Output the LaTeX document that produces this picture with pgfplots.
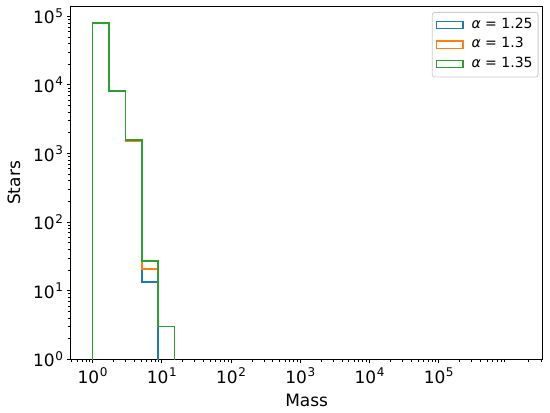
\documentclass[border=0pt]{standalone}
\usepackage{fontspec}
\setmainfont{DejaVu Sans}
\usepackage{pgfplots}
\pgfplotsset{compat=1.18}
\definecolor{tabblue}{HTML}{1F77B4}
\definecolor{taborange}{HTML}{FF7F0E}
\definecolor{tabgreen}{HTML}{2CA02C}
\newcommand{\tp}[1]{10\hspace{0.6pt}\raisebox{6.7pt}{\fontsize{12}{12}\selectfont #1}}
\begin{document}
\begin{tikzpicture}
\useasboundingbox (0,0) rectangle (550pt,413pt);
\begin{axis}[
  at={(70.7pt,53.7pt)}, anchor=south west,
  scale only axis, width=472pt, height=352.6pt,
  xmode=log, ymode=log,
  xmin=0.483, xmax=3.18e6, ymin=1, ymax=1.38e5,
  xtick={1,10,100,1000,10000,100000},
  xticklabels={\tp{0},\tp{1},\tp{2},\tp{3},\tp{4},\tp{5}},
  minor xtick={0.5,0.6,0.7,0.8,0.9,2,3,4,5,6,7,8,9,20,30,40,50,60,70,80,90,200,300,400,500,600,700,800,900,2000,3000,4000,5000,6000,7000,8000,9000,20000,30000,40000,50000,60000,70000,80000,90000,200000,300000,400000,500000,600000,700000,800000,900000,2000000,3000000},
  ytick={1,10,100,1000,10000,100000},
  yticklabels={\tp{0},\tp{1},\tp{2},\tp{3},\tp{4},\tp{5}},
  minor ytick={2,3,4,5,6,7,8,9,20,30,40,50,60,70,80,90,200,300,400,500,600,700,800,900,2000,3000,4000,5000,6000,7000,8000,9000,20000,30000,40000,50000,60000,70000,80000,90000},
  tick pos=left,
  tick align=outside,
  major tick length=4.2pt, minor tick length=2.4pt,
  every tick/.style={black, line width=0.9pt},
  every minor tick/.style={black, line width=0.7pt},
  axis line style={line width=0.9pt},
  tick label style={font=\fontsize{17}{20}\selectfont},
  xticklabel style={yshift=-1pt},
  label style={font=\fontsize{17}{20}\selectfont},
  xlabel={Mass}, ylabel={Stars},
  xlabel style={at={(axis description cs:0.5,-0.1344)}, anchor=base},
  ylabel style={at={(axis description cs:-0.1074,0.5)}, anchor=base},
  clip=true,
  legend cell align=left,
  legend image code/.code={\draw[#1, line width=1.2pt, sharp corners] (0pt,-3.65pt) rectangle (26.7pt,3.65pt);},
  legend style={at={(axis description cs:1,1)}, anchor=north east, xshift=-4.2pt, yshift=-5.3pt,
    draw=black!20, line width=0.8pt, rounded corners=2.5pt, fill=white, fill opacity=0.8, text opacity=1,
    font=\fontsize{14}{16}\selectfont, inner xsep=3.5pt, inner ysep=4pt, row sep=2pt,
    nodes={inner sep=2pt, text height=10pt, text depth=3.5pt},
    /tikz/every odd column/.append style={column sep=6pt}},
]
\addplot[tabblue, line width=1.7pt, const plot mark left] coordinates {
  (1,0.01) (1,80700) (1.726,8120) (2.98,1573) (5.14,13.3) (8.88,0.01)};
\addlegendentry{\textit{α} = 1.25}
\addplot[taborange, line width=1.7pt, const plot mark left] coordinates {
  (1,0.01) (1,80700) (1.726,8150) (2.98,1507) (5.14,20.7) (8.88,3.0) (15.33,0.01)};
\addlegendentry{\textit{α} = 1.3}
\addplot[tabgreen, line width=1.7pt, const plot mark left] coordinates {
  (1,0.01) (1,80700) (1.726,8150) (2.98,1573) (5.14,27.4) (8.88,3.0) (15.33,0.01)};
\addlegendentry{\textit{α} = 1.35}
\end{axis}
\end{tikzpicture}
\end{document}
